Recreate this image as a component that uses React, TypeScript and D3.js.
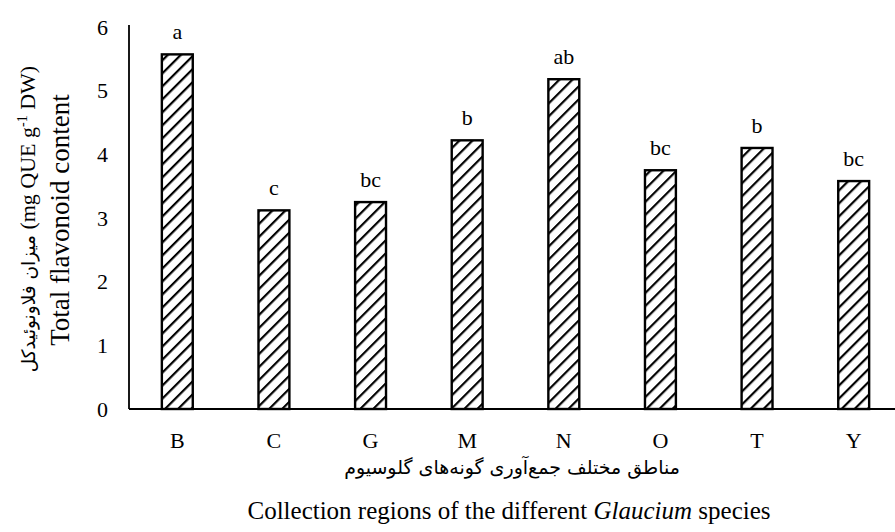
import React from "react";
import * as d3 from "d3";

const categories = ["B", "C", "G", "M", "N", "O", "T", "Y"];
const values = [5.57, 3.12, 3.25, 4.22, 5.18, 3.75, 4.1, 3.58];
const letters = ["a", "c", "bc", "b", "ab", "bc", "b", "bc"];
const yTicks = [0, 1, 2, 3, 4, 5, 6];

const W = 895;
const H = 532;
const left = 129;
const right = 902;
const top = 27;
const bottom = 409;
const serif = "'Liberation Serif', 'Times New Roman', 'DejaVu Serif', serif";
const arabicFont = "'DejaVu Sans', 'Noto Sans', sans-serif";

export default function App() {
  const x = d3.scaleBand<string>().domain(categories).range([left, right]).paddingInner(0.68).paddingOuter(0.34);
  const y = d3.scaleLinear().domain([0, 6]).range([bottom, top]);
  const bw = x.bandwidth();
  return (
    <div style={{ position: "absolute", left: 0, top: 0 }}>
      <svg width={W} height={H} style={{ display: "block", background: "#fff" }}>
        <defs>
          <pattern id="hatch" patternUnits="userSpaceOnUse" width={9.2} height={9.2} patternTransform="rotate(45)">
            <rect width={9.2} height={9.2} fill="#fff" />
            <line x1={0} y1={0} x2={0} y2={9.2} stroke="#000" strokeWidth={4.4} />
          </pattern>
        </defs>
        {categories.map((c, i) => (
          <g key={c}>
            <rect
              x={x(c)}
              y={y(values[i])}
              width={bw}
              height={y(0) - y(values[i])}
              fill="url(#hatch)"
              stroke="#000"
              strokeWidth={2.4}
            />
            <text x={(x(c) as number) + bw / 2} y={y(values[i]) - 15} textAnchor="middle" fontFamily={serif} fontSize={22}>
              {letters[i]}
            </text>
            <text x={(x(c) as number) + bw / 2} y={448} textAnchor="middle" fontFamily={serif} fontSize={22}>
              {c}
            </text>
          </g>
        ))}
        <line x1={left} x2={left} y1={25} y2={bottom} stroke="#000" strokeWidth={1.8} />
        <line x1={left} x2={W} y1={bottom} y2={bottom} stroke="#000" strokeWidth={2.2} />
        {yTicks.map((t) => (
          <text key={t} x={108} y={y(t) + 7.5} textAnchor="end" fontFamily={serif} fontSize={22}>
            {t}
          </text>
        ))}
        <text transform={`translate(69,220) rotate(-90)`} textAnchor="middle" fontFamily={serif} fontSize={27}>
          Total flavonoid content
        </text>
        <text transform={`translate(35,219) rotate(-90)`} textAnchor="middle" fontFamily={serif} fontSize={22}>
          <tspan fontFamily={arabicFont} fontSize={18.5}>میزان فلاونوئیدکل</tspan>
          <tspan> (mg QUE g</tspan>
          <tspan fontSize={14} dy={-8}>-1</tspan>
          <tspan dy={8}> DW)</tspan>
        </text>
        <text x={512} y={474} textAnchor="middle" fontFamily={arabicFont} fontSize={19}>
          مناطق مختلف جمع‌آوری گونه‌های گلوسیوم
        </text>
        <text x={509} y={519} textAnchor="middle" fontFamily={serif} fontSize={25}>
          Collection regions of the different <tspan fontStyle="italic">Glaucium</tspan> species
        </text>
      </svg>
    </div>
  );
}
